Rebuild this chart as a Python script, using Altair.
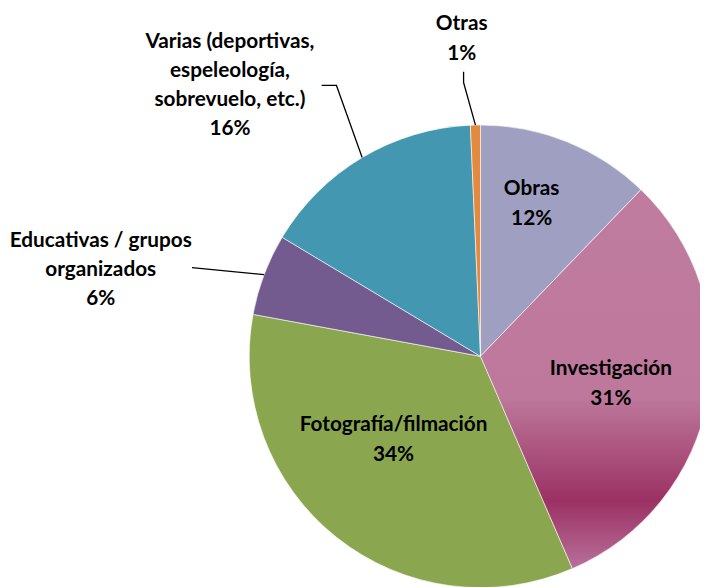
import altair as alt
import pandas as pd
import numpy as np

# ---- data ----
categories = ["Obras", "Investigación", "Fotografía/filmación",
              "Educativas / grupos organizados",
              "Varias (deportivas, espeleología, sobrevuelo, etc.)", "Otras"]
label_names = ["Obras", "Investigación", "Fotografía/filmación",
               "Educativas / grupos\norganizados",
               "Varias (deportivas,\nespeleología,\nsobrevuelo, etc.)", "Otras"]
values = [12.2, 31.3, 34.4, 5.7, 15.7, 0.7]
colors = ["#9F9FC2", "#C07C9E", "#8AA64E", "#735A8F", "#4397B0", "#E38A3E"]

# ---- layout / style ----
W, H = 700, 579
CX, CY, R = 478, 349, 234
FONT = "Lato"
FS = 21
LH = 29.5
# per-label radius and offsets of the label block centre (style)
label_style = [
    (165, -10, -1),
    (135, -1, 4),
    (130, -7, -17),
    (400, -10, 54),
    (300, -100, -16),
    (320, -12, -1),
]
# leader elbows/ends relative to slice edge point (style)
leader_style = {
    3: [(0, 0), (-73, -7)],
    4: [(0, 0), (-26, -73), (-41, -73)],
    5: [(0, 0), (-12, -43), (-12, -54)],
}

labels = [f"{n}\n{round(v)}%" for n, v in zip(label_names, values)]
df = pd.DataFrame({"cat": categories, "idx": list(range(len(categories))),
                   "value": values, "label": labels})

# leader line points from the pie geometry
total = sum(values)
cum = np.cumsum([0] + values)
rows = []
for i, pts in leader_style.items():
    mid = (cum[i] + cum[i + 1]) / 2 / total * 2 * np.pi
    ex, ey = CX + R * np.sin(mid), CY - R * np.cos(mid)
    for k, (ox, oy) in enumerate(pts):
        rows.append({"cat": categories[i], "pt": k, "x": ex + ox, "y": ey + oy})
leaders = pd.DataFrame(rows)

base = alt.Chart(df).encode(
    theta=alt.Theta("value:Q", stack=True),
    order=alt.Order("idx:Q"),
)

arcs = base.mark_arc(radius=R, x=CX, y=CY, stroke="white", strokeWidth=0.6).encode(
    color=alt.Color("cat:N", scale=alt.Scale(domain=categories, range=colors), legend=None)
)

grad = base.mark_arc(
    radius=R, x=CX, y=CY, stroke="white", strokeWidth=0.6,
    fill=alt.Gradient(
        gradient="linear", x1=0, x2=0, y1=0, y2=1,
        stops=[
            alt.GradientStop(offset=0, color="#C07C9E"),
            alt.GradientStop(offset=0.55, color="#BD789B"),
            alt.GradientStop(offset=0.82, color="#9B3163"),
            alt.GradientStop(offset=1, color="#B8709A"),
        ],
    ),
).encode(opacity=alt.condition(alt.datum.idx == 1, alt.value(1), alt.value(0)))

text_layers = []
for i, (r, dx, dy) in enumerate(label_style):
    nlines = labels[i].count("\n") + 1
    t = base.mark_text(
        radius=r, x=CX, y=CY, dx=dx, dy=dy - (nlines - 1) * LH / 2,
        font=FONT, fontSize=FS, fontWeight="bold", lineBreak="\n",
        lineHeight=LH, align="center", baseline="middle", color="black",
    ).encode(text=alt.condition(alt.datum.idx == i, alt.Text("label:N"), alt.value("")))
    text_layers.append(t)

lead = alt.Chart(leaders).mark_line(color="black", strokeWidth=1.3).encode(
    x=alt.X("x:Q", scale=None, axis=None),
    y=alt.Y("y:Q", scale=None, axis=None),
    detail="cat:N",
    order="pt:Q",
)

chart = alt.layer(arcs, grad, lead, *text_layers).properties(
    width=W, height=H, autosize=alt.AutoSizeParams(type="none"), padding=0
).configure_view(stroke=None)

chart.save("out.html", embed_options={"renderer": "svg", "actions": False})
